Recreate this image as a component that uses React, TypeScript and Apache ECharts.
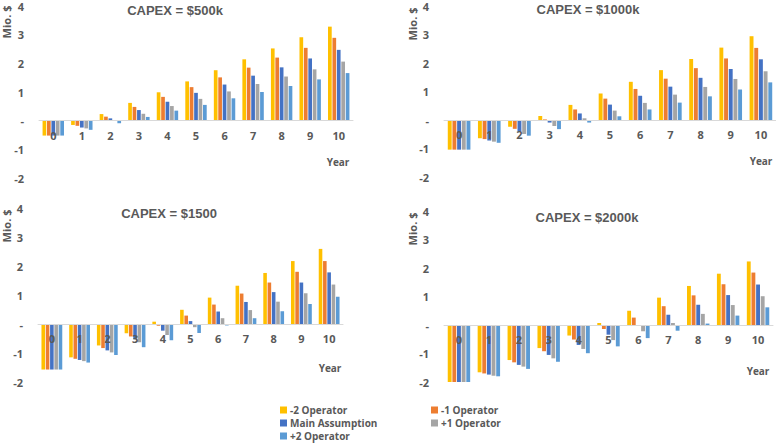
import React, { useEffect, useRef } from "react";
import * as echarts from "echarts";

const years = ["0", "1", "2", "3", "4", "5", "6", "7", "8", "9", "10"];
const seriesNames = ["-2 Operator", "-1 Operator", "Main Assumption", "+1 Operator", "+2 Operator"];
const colors = ["#FFC000", "#ED7D31", "#4472C4", "#A5A5A5", "#5B9BD5"];
const titles = ["CAPEX = $500k", "CAPEX = $1000k", "CAPEX = $1500", "CAPEX = $2000k"];
const yTicks = [-2, -1, 0, 1, 2, 3, 4];

// CAPEX = $500k
const c500Minus2 = [-0.52, -0.15, 0.23, 0.62, 0.99, 1.37, 1.76, 2.14, 2.52, 2.91, 3.28];
const c500Minus1 = [-0.52, -0.18, 0.14, 0.48, 0.83, 1.17, 1.51, 1.85, 2.2, 2.54, 2.89];
const c500Main = [-0.52, -0.24, 0.08, 0.37, 0.66, 0.97, 1.26, 1.57, 1.86, 2.17, 2.47];
const c500Plus1 = [-0.52, -0.27, 0.0, 0.24, 0.51, 0.76, 1.02, 1.28, 1.54, 1.79, 2.06];
const c500Plus2 = [-0.52, -0.32, -0.09, 0.13, 0.35, 0.55, 0.78, 1.0, 1.21, 1.44, 1.66];

// CAPEX = $1000k
const c1000Minus2 = [-1.04, -0.64, -0.24, 0.14, 0.53, 0.93, 1.34, 1.75, 2.14, 2.54, 2.94];
const c1000Minus1 = [-1.04, -0.67, -0.31, 0.02, 0.37, 0.75, 1.09, 1.45, 1.82, 2.16, 2.53];
const c1000Main = [-1.04, -0.72, -0.41, -0.09, 0.23, 0.54, 0.85, 1.17, 1.48, 1.79, 2.13];
const c1000Plus1 = [-1.04, -0.76, -0.49, -0.21, 0.06, 0.33, 0.6, 0.89, 1.16, 1.44, 1.71];
const c1000Plus2 = [-1.04, -0.8, -0.55, -0.32, -0.09, 0.13, 0.37, 0.61, 0.83, 1.07, 1.32];

// CAPEX = $1500
const c1500Minus2 = [-1.57, -1.15, -0.74, -0.32, 0.08, 0.49, 0.91, 1.32, 1.76, 2.17, 2.59];
const c1500Minus1 = [-1.57, -1.2, -0.83, -0.43, -0.06, 0.29, 0.67, 1.05, 1.43, 1.8, 2.17];
const c1500Main = [-1.57, -1.24, -0.91, -0.53, -0.23, 0.1, 0.43, 0.76, 1.1, 1.43, 1.78];
const c1500Plus1 = [-1.57, -1.28, -0.98, -0.63, -0.38, -0.11, 0.2, 0.48, 0.77, 1.06, 1.36];
const c1500Plus2 = [-1.57, -1.33, -1.07, -0.8, -0.56, -0.31, -0.05, 0.2, 0.44, 0.69, 0.94];

// CAPEX = $2000k
const c2000Minus2 = [-2.0, -1.66, -1.23, -0.81, -0.37, 0.07, 0.5, 0.96, 1.37, 1.8, 2.23];
const c2000Minus1 = [-2.0, -1.7, -1.31, -0.92, -0.51, -0.14, 0.26, 0.66, 1.04, 1.43, 1.84];
const c2000Main = [-2.0, -1.74, -1.4, -1.05, -0.7, -0.34, 0.0, 0.36, 0.71, 1.05, 1.42];
const c2000Plus1 = [-2.0, -1.78, -1.46, -1.17, -0.84, -0.53, -0.22, 0.07, 0.39, 0.7, 1.01];
const c2000Plus2 = [-2.0, -1.8, -1.54, -1.29, -0.99, -0.75, -0.46, -0.2, 0.05, 0.33, 0.62];

const panelData = [
  [c500Minus2, c500Minus1, c500Main, c500Plus1, c500Plus2],
  [c1000Minus2, c1000Minus1, c1000Main, c1000Plus1, c1000Plus2],
  [c1500Minus2, c1500Minus1, c1500Main, c1500Plus1, c1500Plus2],
  [c2000Minus2, c2000Minus1, c2000Main, c2000Plus1, c2000Plus2],
];

// layout of the four panels (pixels)
const panels = [
  { left: 39, top: 6, width: 314, height: 172, titleX: 175, titleY: 10, mioX: 6, mioY: 22, yearX: 338, yearY: 162 },
  { left: 444, top: 6, width: 332, height: 171, titleX: 588, titleY: 9, mioX: 412, mioY: 24, yearX: 761, yearY: 161 },
  { left: 38, top: 208, width: 305, height: 174, titleX: 169, titleY: 213, mioX: 6, mioY: 226, yearX: 330, yearY: 368 },
  { left: 444, top: 211, width: 329, height: 171, titleX: 587, titleY: 217, mioX: 412, mioY: 229, yearX: 758, yearY: 371 },
];

const FONT = "'Open Sans', 'Liberation Sans', sans-serif";
const TITLE_FONT = "'Liberation Sans', Arial, sans-serif";
const TXT = "#595959";

export default function App() {
  const ref = useRef<HTMLDivElement>(null);

  useEffect(() => {
    if (!ref.current) return;
    const chart = echarts.init(ref.current, undefined, { renderer: "svg" });

    const grid = panels.map((p) => ({ left: p.left, top: p.top, width: p.width, height: p.height, containLabel: false }));
    const xAxis = panels.map((p, i) => ({
      type: "category",
      gridIndex: i,
      data: years,
      z: 10,
      position: "bottom",
      // place the category axis at value 0 (range -2..4)
      offset: -(p.height * (0 - yTicks[0])) / (yTicks[yTicks.length - 1] - yTicks[0]),
      axisLine: { onZero: false, lineStyle: { color: "#D9D9D9", width: 1 } },
      axisTick: { show: false },
      axisLabel: { color: TXT, fontSize: 11, fontWeight: "bold", fontFamily: FONT, margin: 9 },
    }));
    const yAxis = panels.map((_, i) => ({
      type: "value",
      gridIndex: i,
      min: yTicks[0],
      max: yTicks[yTicks.length - 1],
      interval: 1,
      axisLine: { show: false },
      axisTick: { show: false },
      splitLine: { show: false },
      axisLabel: {
        color: TXT,
        fontSize: 11,
        fontWeight: "bold",
        fontFamily: FONT,
        margin: 15,
        formatter: (v: number) => (v === 0 ? "-" : String(v)),
      },
    }));

    const series: any[] = [];
    panelData.forEach((arrs, pi) => {
      arrs.forEach((arr, si) => {
        series.push({
          type: "bar",
          name: seriesNames[si],
          xAxisIndex: pi,
          yAxisIndex: pi,
          data: arr,
          itemStyle: { color: colors[si] },
          barGap: "20%",
          barCategoryGap: "25%",
        });
      });
    });

    const graphic: any[] = [];
    panels.forEach((p, i) => {
      graphic.push({
        type: "text",
        x: p.titleX,
        y: p.titleY,
        style: { text: titles[i], fill: TXT, font: `bold 13px ${TITLE_FONT}`, textAlign: "center", textVerticalAlign: "middle" },
      });
      graphic.push({
        type: "text",
        x: p.mioX,
        y: p.mioY,
        rotation: Math.PI / 2,
        style: { text: "Mio. $", fill: TXT, font: `bold 11px ${FONT}`, textAlign: "center", textVerticalAlign: "middle" },
      });
      graphic.push({
        type: "text",
        x: p.yearX,
        y: p.yearY,
        style: { text: "Year", fill: TXT, font: `bold 10px ${FONT}`, textAlign: "center", textVerticalAlign: "middle" },
      });
    });

    const legendCommon = {
      orient: "vertical",
      icon: "rect",
      itemWidth: 7,
      itemHeight: 7,
      itemGap: 1,
      padding: 0,
      height: 60,
      textStyle: { color: TXT, fontSize: 10, fontWeight: "bold", fontFamily: FONT, padding: [0, 0, 0, -2], lineHeight: 12, height: 12 },
      selectedMode: false,
    };

    chart.setOption({
      animation: false,
      backgroundColor: "#ffffff",
      grid,
      xAxis,
      yAxis,
      series,
      graphic,
      legend: [
        { ...legendCommon, left: 280, top: 404, data: [seriesNames[0], seriesNames[2], seriesNames[4]] },
        { ...legendCommon, left: 431, top: 404, data: [seriesNames[1], seriesNames[3]] },
      ],
    });

    return () => chart.dispose();
  }, []);

  return <div ref={ref} style={{ position: "fixed", left: 0, top: 0, width: 776, height: 443 }} />;
}
